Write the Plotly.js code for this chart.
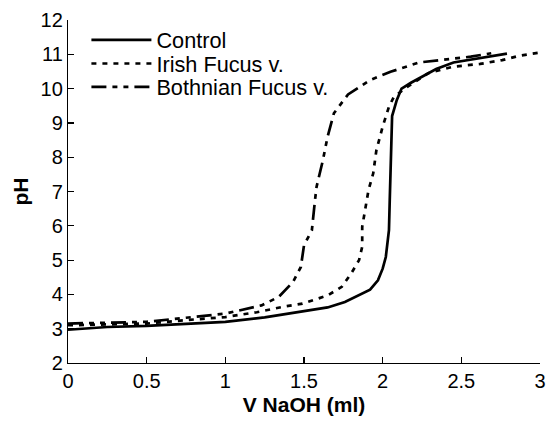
<!DOCTYPE html>
<html>
<head>
<meta charset="utf-8">
<script src="https://cdn.plot.ly/plotly-3.0.1.min.js"></script>
<style>html,body{margin:0;padding:0;background:#fff;}#chart{width:547px;height:424px;}</style>
</head>
<body>
<div id="chart"></div>
<script>
const seriesNames = ["Control", "Irish Fucus v.", "Bothnian Fucus v."];

const controlX = [0, 0.25, 0.5, 0.75, 1.0, 1.25, 1.5, 1.65, 1.76, 1.85, 1.92, 1.97, 2.0, 2.02, 2.04, 2.045, 2.05, 2.055, 2.06, 2.09, 2.12, 2.18, 2.23, 2.34, 2.45, 2.56, 2.68, 2.79];
const controlY = [2.97, 3.05, 3.08, 3.14, 3.2, 3.33, 3.5, 3.62, 3.78, 3.98, 4.14, 4.41, 4.75, 5.09, 5.87, 6.75, 7.6, 8.2, 9.2, 9.67, 10.0, 10.17, 10.3, 10.57, 10.76, 10.85, 10.93, 11.02];

const irishX = [0, 0.25, 0.5, 0.75, 1.0, 1.2, 1.38, 1.49, 1.65, 1.74, 1.8, 1.85, 1.87, 1.87, 1.89, 1.91, 1.94, 1.96, 2.0, 2.04, 2.07, 2.14, 2.29, 2.45, 2.62, 2.76, 2.87, 3.0];
const irishY = [3.1, 3.13, 3.15, 3.25, 3.34, 3.48, 3.65, 3.73, 3.97, 4.22, 4.61, 5.0, 5.39, 5.97, 6.55, 7.04, 7.53, 8.2, 8.89, 9.47, 9.75, 10.0, 10.45, 10.64, 10.72, 10.83, 10.96, 11.05];

const bothX = [0, 0.25, 0.5, 0.75, 1.0, 1.23, 1.34, 1.43, 1.48, 1.5, 1.55, 1.57, 1.58, 1.62, 1.65, 1.69, 1.78, 1.92, 2.05, 2.23, 2.38, 2.56, 2.69];
const bothY = [3.15, 3.17, 3.2, 3.32, 3.44, 3.68, 3.93, 4.36, 4.8, 5.43, 5.87, 6.75, 7.14, 7.91, 8.6, 9.28, 9.83, 10.25, 10.49, 10.76, 10.83, 10.93, 11.03];

const xTicks = [0, 0.5, 1, 1.5, 2, 2.5, 3];
const xTickText = ["0", "0.5", "1", "1.5", "2", "2.5", "3"];
const yTicks = [2, 3, 4, 5, 6, 7, 8, 9, 10, 11, 12];

const font = "Liberation Sans, Arial, sans-serif";

const traces = [
  {x: controlX, y: controlY, name: seriesNames[0], legend: "legend", mode: "lines", line: {color: "#000", width: 2.7, dash: "solid"}},
  {x: irishX, y: irishY, name: seriesNames[1], legend: "legend2", mode: "lines", line: {color: "#000", width: 2.7, dash: "5px,6px"}},
  {x: bothX, y: bothY, name: seriesNames[2], legend: "legend3", mode: "lines", line: {color: "#000", width: 2.7, dash: "15px,6px,5px,6px,5px,6px"}}
];

function leg(y) {
  return {x: 0.039, y: y, xanchor: "left", yanchor: "middle", bgcolor: "rgba(0,0,0,0)",
          font: {family: font, size: 21.7, color: "#000"}, itemwidth: 60};
}

const layout = {
  width: 547, height: 424,
  margin: {l: 68, r: 7, t: 20, b: 61},
  paper_bgcolor: "#fff", plot_bgcolor: "#fff",
  font: {family: font, color: "#000", size: 20},
  showlegend: true,
  legend: leg(0.941),
  legend2: leg(0.872),
  legend3: leg(0.804),
  xaxis: {
    range: [0, 3], tickvals: xTicks, ticktext: xTickText, ticks: "inside", ticklen: 6, tickwidth: 1.2,
    tickcolor: "#000", showline: true, linecolor: "#000", linewidth: 1.2, showgrid: false, zeroline: false,
    tickfont: {family: font, size: 20, color: "#000"},
    title: {text: "<b>V NaOH (ml)</b>", font: {family: font, size: 21, color: "#000"}, standoff: 6}
  },
  yaxis: {
    range: [2, 12], tickvals: yTicks, ticks: "inside", ticklen: 6, tickwidth: 1.2,
    tickcolor: "#000", showline: true, linecolor: "#000", linewidth: 1.2, showgrid: false, zeroline: false,
    tickfont: {family: font, size: 20, color: "#000"},
    title: {text: "<b>pH</b>", font: {family: font, size: 21, color: "#000"}, standoff: 6}
  }
};

Plotly.newPlot("chart", traces, layout, {staticPlot: true, displayModeBar: false});
</script>
</body>
</html>
